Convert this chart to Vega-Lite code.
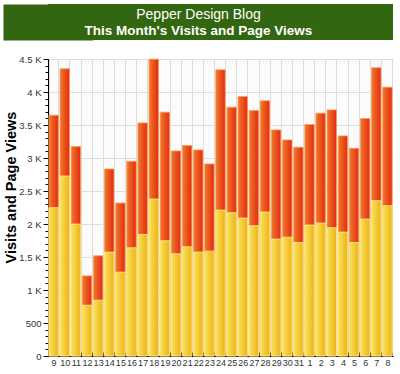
{
  "$schema": "https://vega.github.io/schema/vega-lite/v6.json",
  "padding": {"left": 3, "top": 4, "right": 7, "bottom": 2},
  "background": "white",
  "spacing": 14,
  "config": {"font": "Liberation Sans", "view": {"stroke": null}},
  "datasets": {
    "titles": [
      {"line": 1, "text": "Pepper Design Blog"},
      {"line": 2, "text": "This Month's Visits and Page Views"}
    ],
    "stats": [
      {"day": "9", "visits": 2247, "pageviews": 3648},
      {"day": "10", "visits": 2727, "pageviews": 4352},
      {"day": "11", "visits": 1999, "pageviews": 3173},
      {"day": "12", "visits": 769, "pageviews": 1214},
      {"day": "13", "visits": 845, "pageviews": 1518},
      {"day": "14", "visits": 1574, "pageviews": 2834},
      {"day": "15", "visits": 1270, "pageviews": 2317},
      {"day": "16", "visits": 1639, "pageviews": 2950},
      {"day": "17", "visits": 1842, "pageviews": 3532},
      {"day": "18", "visits": 2378, "pageviews": 4498},
      {"day": "19", "visits": 1746, "pageviews": 3694},
      {"day": "20", "visits": 1548, "pageviews": 3107},
      {"day": "21", "visits": 1655, "pageviews": 3188},
      {"day": "22", "visits": 1574, "pageviews": 3122},
      {"day": "23", "visits": 1589, "pageviews": 2910},
      {"day": "24", "visits": 2211, "pageviews": 4336},
      {"day": "25", "visits": 2171, "pageviews": 3770},
      {"day": "26", "visits": 2090, "pageviews": 3932},
      {"day": "27", "visits": 1973, "pageviews": 3719},
      {"day": "28", "visits": 2181, "pageviews": 3866},
      {"day": "29", "visits": 1771, "pageviews": 3426},
      {"day": "30", "visits": 1801, "pageviews": 3274},
      {"day": "31", "visits": 1720, "pageviews": 3163},
      {"day": "1", "visits": 1984, "pageviews": 3507},
      {"day": "2", "visits": 2014, "pageviews": 3679},
      {"day": "3", "visits": 1943, "pageviews": 3729},
      {"day": "4", "visits": 1877, "pageviews": 3335},
      {"day": "5", "visits": 1720, "pageviews": 3147},
      {"day": "6", "visits": 2075, "pageviews": 3598},
      {"day": "7", "visits": 2353, "pageviews": 4367},
      {"day": "8", "visits": 2277, "pageviews": 4073}
    ]
  },
  "vconcat": [
    {
      "width": 345,
      "height": 36,
      "view": {"fill": "#336611", "stroke": null},
      "data": {"name": "titles"},
      "encoding": {
        "y": {
          "field": "line", "type": "ordinal",
          "scale": {"type": "point", "domain": [1, 2], "padding": 0.625},
          "axis": {"title": null, "labels": false, "ticks": false, "grid": false, "domain": true, "domainWidth": 90, "domainColor": "#336611", "domainCap": "butt"}
        },
        "text": {"field": "text", "type": "nominal"}
      },
      "layer": [
        {
          "transform": [{"filter": "datum.line == 1"}],
          "mark": {"type": "text", "font": "Liberation Sans", "fontSize": 14, "color": "white", "baseline": "middle", "dx": -22, "dy": 1}
        },
        {
          "transform": [{"filter": "datum.line == 2"}],
          "mark": {"type": "text", "font": "Liberation Sans", "fontSize": 13.5, "fontWeight": "bold", "color": "white", "baseline": "middle", "dx": -22, "dy": 1}
        }
      ]
    },
    {
      "width": 345,
      "height": 297,
      "view": {"fill": "#fbfbfb", "stroke": null},
      "data": {"name": "stats"},
      "encoding": {
        "x": {
          "field": "day", "type": "ordinal", "sort": null,
          "scale": {"paddingInner": 0.15, "paddingOuter": 0.08},
          "axis": {
            "title": null, "labelAngle": 0, "labelFontSize": 9, "labelColor": "#333333",
            "tickBand": "extent", "grid": true, "gridColor": "#dddddd",
            "domainColor": "#000000", "tickColor": "#000000", "tickSize": -4, "labelPadding": 6
          }
        }
      },
      "layer": [
        {
          "mark": {
            "type": "bar", "stroke": "#f6a050", "strokeWidth": 0.8,
            "color": {"gradient": "linear", "x1": 0, "x2": 1, "y1": 0, "y2": 0,
              "stops": [{"offset": 0, "color": "#f07a2c"}, {"offset": 1, "color": "#e42a10"}]}
          },
          "encoding": {
            "y": {
              "field": "pageviews", "type": "quantitative",
              "scale": {"domain": [0, 4500], "nice": false},
              "axis": {
                "title": "Visits and Page Views", "titleFontSize": 14.5, "titleFontWeight": "bold", "titleColor": "#000000", "titlePadding": 0, "titleY": 128,
                "values": [0, 500, 1000, 1500, 2000, 2500, 3000, 3500, 4000, 4500],
                "labelExpr": "datum.value >= 1000 ? (datum.value / 1000) + ' K' : datum.value",
                "labelFontSize": 9.5, "labelColor": "#333333", "grid": true, "gridColor": "#dddddd",
                "domainColor": "#000000", "tickColor": "#000000", "tickSize": 5, "labelPadding": 2
              }
            }
          }
        },
        {
          "mark": {
            "type": "bar", "stroke": "#fff089", "strokeWidth": 0.8,
            "color": {"gradient": "linear", "x1": 0, "x2": 1, "y1": 0, "y2": 0,
              "stops": [{"offset": 0, "color": "#f9e35c"}, {"offset": 1, "color": "#eeb214"}]}
          },
          "encoding": {
            "y": {
              "field": "visits", "type": "quantitative",
              "axis": {
                "orient": "left", "title": null, "labels": false, "grid": false, "domain": false,
                "tickCount": 45, "tickColor": "#000000", "tickSize": 3
              }
            }
          }
        }
      ],
      "resolve": {"axis": {"y": "independent"}}
    }
  ]
}
